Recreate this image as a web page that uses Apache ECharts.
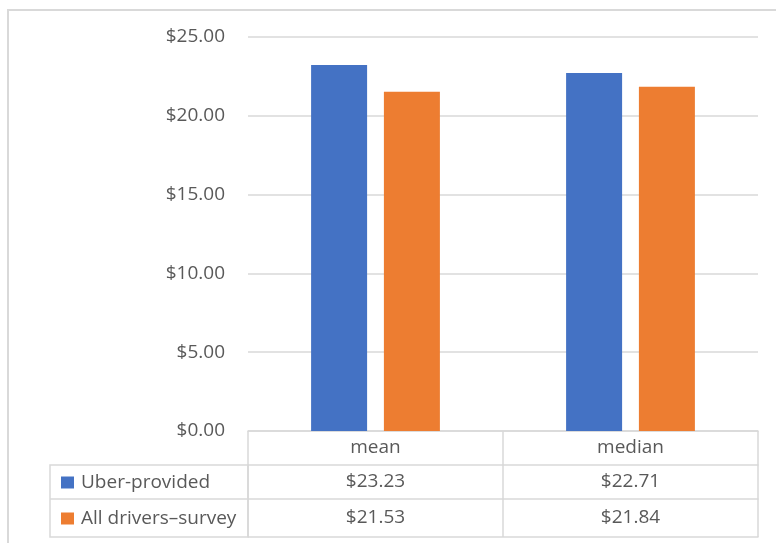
<!DOCTYPE html>
<html>
<head>
<meta charset="utf-8">
<script src="https://cdn.jsdelivr.net/npm/echarts@6/dist/echarts.min.js"></script>
<style>
  html, body { margin: 0; padding: 0; background: #fff; }
  #chart { width: 776px; height: 543px; }
</style>
</head>
<body>
<div id="chart"></div>
<script>
// data
const categories = ['mean', 'median'];
const seriesNames = ['Uber-provided', 'All drivers\u2013survey'];
const uberValues = [23.23, 22.71];
const surveyValues = [21.53, 21.84];
const yTicks = [0, 5, 10, 15, 20, 25];

const textColor = '#595959';
const lineColor = '#d9d9d9';
const money = v => '$' + v.toFixed(2);

// one x axis per table row, stacked under the plot with offset
function tableAxis(offset, tickLen, margin, labelFn) {
  return {
    type: 'category',
    data: categories,
    position: 'bottom',
    offset: offset,
    axisLine: { show: true, lineStyle: { color: lineColor, width: 1.5 } },
    axisTick: { show: tickLen > 0, length: tickLen, interval: 0, lineStyle: { color: lineColor, width: 1.5 } },
    axisLabel: {
      show: !!labelFn,
      interval: 0,
      margin: margin,
      verticalAlign: 'middle',
      color: textColor,
      fontSize: 19,
      formatter: labelFn || ''
    }
  };
}

var chart = echarts.init(document.getElementById('chart'));
chart.setOption({
  animation: false,
  textStyle: { fontFamily: 'Open Sans' },
  grid: { left: 248, right: 18, top: 37, bottom: 112 },
  legend: [
    { // row 1
      data: [seriesNames[0]], orient: 'vertical', left: 56, top: 468,
      icon: 'rect', itemWidth: 13, itemHeight: 12, selectedMode: false,
      textStyle: { color: textColor, fontSize: 19, padding: [0, 0, 0, 2] }
    },
    { // row 2
      data: [seriesNames[1]], orient: 'vertical', left: 56, top: 504,
      icon: 'rect', itemWidth: 13, itemHeight: 12, selectedMode: false,
      textStyle: { color: textColor, fontSize: 19, padding: [0, 0, 0, 2] }
    }
  ],
  xAxis: [
    tableAxis(0, 34, 17, v => v),
    tableAxis(34, 34, 17, (v, i) => money(uberValues[i])),
    tableAxis(68, 38, 19, (v, i) => money(surveyValues[i])),
    tableAxis(106, 0, 0, null)
  ],
  yAxis: {
    type: 'value',
    min: yTicks[0],
    max: yTicks[yTicks.length - 1],
    interval: 5,
    axisLine: { show: false },
    axisTick: { show: false },
    axisLabel: { color: textColor, fontSize: 19, margin: 23, formatter: v => money(v) },
    splitLine: { lineStyle: { color: lineColor, width: 1.5 } }
  },
  series: [
    {
      name: seriesNames[0], type: 'bar', data: uberValues,
      barWidth: 56, barGap: '30%', itemStyle: { color: '#4472C4' }
    },
    {
      name: seriesNames[1], type: 'bar', data: surveyValues,
      barWidth: 56, itemStyle: { color: '#ED7D31' }
    }
  ],
  // frame of the chart box and the legend column of the table
  graphic: [
    { type: 'line', shape: { x1: 7, y1: 10, x2: 776, y2: 10 }, style: { stroke: lineColor, lineWidth: 2 } },
    { type: 'line', shape: { x1: 8, y1: 10, x2: 8, y2: 543 }, style: { stroke: lineColor, lineWidth: 2 } },
    { type: 'rect', shape: { x: 50, y: 465, width: 198, height: 72 }, style: { fill: 'none', stroke: lineColor, lineWidth: 1.5 } },
    { type: 'line', shape: { x1: 50, y1: 499, x2: 248, y2: 499 }, style: { stroke: lineColor, lineWidth: 1.5 } }
  ]
});
</script>
</body>
</html>
